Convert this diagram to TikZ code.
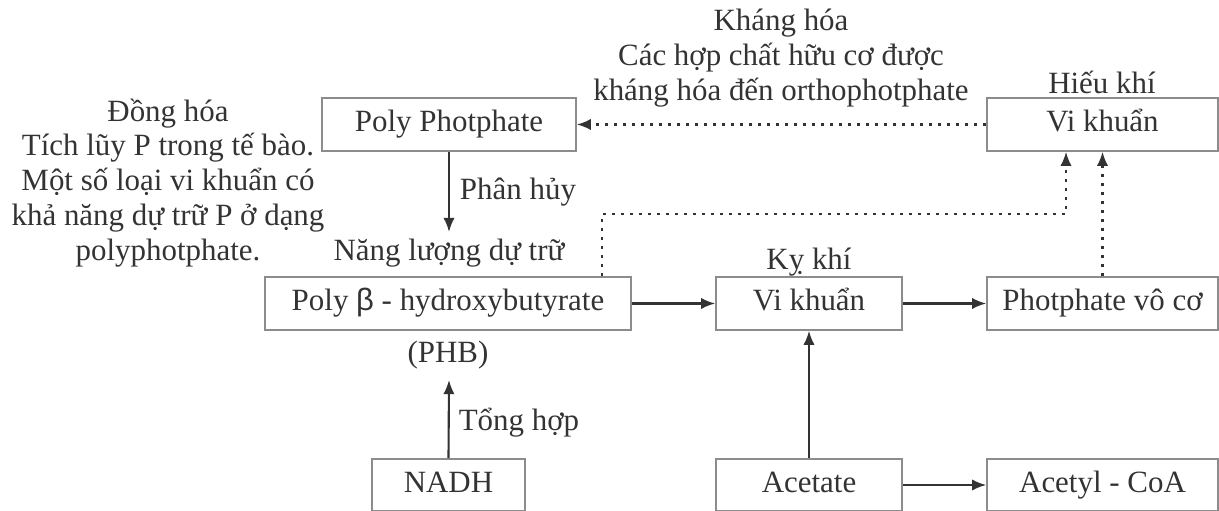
\documentclass[tikz,border=0pt]{standalone}
\usepackage{fontspec}
\setmainfont{Liberation Serif}
\newfontfamily\greekfont{Liberation Sans}
\usepackage{tikz}
\usetikzlibrary{positioning,calc,arrows.meta}

\definecolor{inkgray}{HTML}{333333}
\definecolor{boxgray}{HTML}{8C8C8C}

\tikzset{
  box/.style={draw=boxgray, line width=1.1pt, minimum height=53*0.025cm, inner sep=0pt,
    text height=15pt, text depth=4.4pt},
  flow/.style={draw=inkgray, line width=1.5pt, -{Latex[length=10pt,width=8pt]}},
  dotflow/.style={flow, dash pattern=on 2.4pt off 4pt}
}

\begin{document}
\begin{tikzpicture}[x=0.025cm, y=-0.025cm,
  every node/.style={text=inkgray, font=\fontsize{22}{24.8}\selectfont}]

\useasboundingbox (0,0) rectangle (1219,511);

\node[box, minimum width=254*0.025cm] (pp) at (449,124.5) {Poly Photphate};
\node[box, minimum width=231*0.025cm] (vkh) at (1102.5,124.5) {Vi khuẩn};
\node[box, minimum width=366*0.025cm] (phb) at (448,303.5) {Poly {\greekfont β} - hydroxybutyrate};
\node[box, minimum width=186*0.025cm] (vkk) at (809,303.5) {Vi khuẩn};
\node[box, minimum width=231*0.025cm] (pvc) at (1102.5,303.5) {Photphate vô cơ};
\node[box, minimum width=153*0.025cm, minimum height=52*0.025cm] (nadh) at (448.5,485) {NADH};
\node[box, minimum width=186*0.025cm, minimum height=52*0.025cm] (acetate) at (809,485) {Acetate};
\node[box, minimum width=231*0.025cm, minimum height=52*0.025cm] (acoa) at (1102.5,485) {Acetyl - CoA};

\node[align=center] (donghoa) at (168,183) {Đồng hóa\\Tích lũy P trong tế bào.\\Một số loại vi khuẩn có\\khả năng dự trữ P ở dạng\\polyphotphate.};
\node[align=center] (khanghoa) at (781,58) {Kháng hóa\\Các hợp chất hữu cơ được\\kháng hóa đến orthophotphate};
\node (hieukhi) at (1102,82) {Hiếu khí};
\node (kykhi) at (809,262) {Kỵ khí};
\node (phanhuy) at (518,192) {Phân hủy};
\node (nangluong) at (449,253) {Năng lượng dự trữ};
\node (phbname) at (448,355) {(PHB)};
\node (tonghop) at (519,423) {Tổng hợp};

\coordinate (nltip) at (449,232);
\coordinate (phbtip) at (449,380);
\coordinate (d1) at (602,214);
\coordinate (d2) at (1066,214);

\draw[dotflow] (vkh.west) -- (pp.east);
\draw[flow] (pp.south) -- (nltip);
\draw[flow] (nadh.north) -- (phbtip);
\draw[flow] (phb.east) -- (vkk.west);
\draw[flow] (vkk.east) -- (pvc.west);
\draw[flow] (acetate.north) -- (vkk.south);
\draw[flow] (acetate.east) -- (acoa.west);
\draw[dotflow] (d1 |- phb.north) -- (d1) -- (d2) -- (d2 |- vkh.south);
\draw[dotflow] (pvc.north) -- (vkh.south);

\end{tikzpicture}
\end{document}
